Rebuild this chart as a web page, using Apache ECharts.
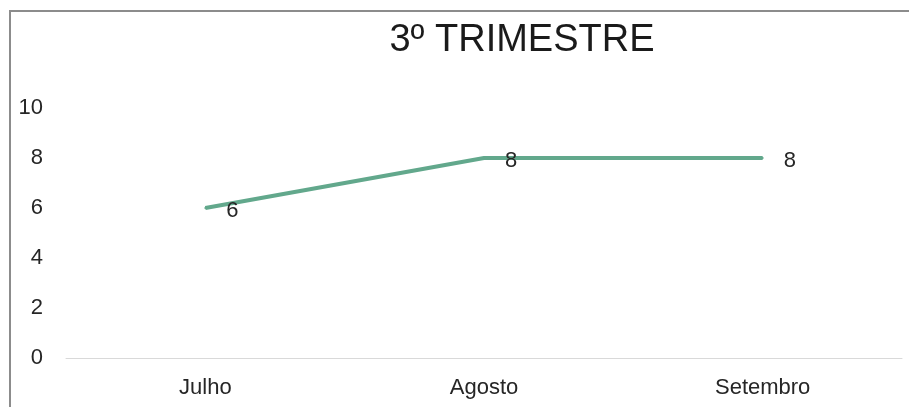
<!DOCTYPE html>
<html>
<head>
<meta charset="utf-8">
<script src="https://cdn.jsdelivr.net/npm/echarts@6/dist/echarts.min.js"></script>
<style>
    html, body { margin: 0; padding: 0; background: #fff; overflow: hidden; }
    #frame { position: absolute; left: 9px; top: 10px; width: 1000px; height: 500px; border: 2px solid #8c8c8c; }
    #chart { position: absolute; left: 0; top: 0; width: 909px; height: 407px; }
</style>
</head>
<body>
<div id="frame"></div>
<div id="chart"></div>
<script>
// dados do 3º trimestre
const meses = ['Julho', 'Agosto', 'Setembro'];
const valores = [6, 8, 8];
const yTicks = { min: 0, max: 10, interval: 2 };

const chart = echarts.init(document.getElementById('chart'));
chart.setOption({
    textStyle: { fontFamily: 'Liberation Sans, Arial, sans-serif' },
    title: {
        text: '3º TRIMESTRE',
        left: 517,
        top: 17,
        textAlign: 'center',
        textStyle: {
            color: '#1a1a1a',
            fontSize: 38,
            fontWeight: 'normal'
        }
    },
    grid: {
        left: 66,
        right: 7,
        top: 108,
        bottom: 49
    },
    xAxis: {
        type: 'category',
        data: meses,
        axisLine: { lineStyle: { color: '#d9d9d9', width: 1 } },
        axisTick: { show: false },
        axisLabel: {
            color: '#262626',
            fontSize: 22,
            margin: 19
        }
    },
    yAxis: {
        type: 'value',
        min: yTicks.min,
        max: yTicks.max,
        interval: yTicks.interval,
        axisLine: { show: false },
        axisTick: { show: false },
        splitLine: { show: false },
        axisLabel: {
            color: '#262626',
            fontSize: 22,
            margin: 23
        }
    },
    series: [
        {
            type: 'line',
            data: valores,
            symbol: 'circle',
            symbolSize: 2,
            itemStyle: { color: '#62a88c' },
            lineStyle: { color: '#62a88c', width: 4 },
            label: {
                show: true,
                position: 'right',
                distance: 20,
                offset: [0, 3],
                color: '#262626',
                fontSize: 22
            }
        }
    ]
});
</script>
</body>
</html>
